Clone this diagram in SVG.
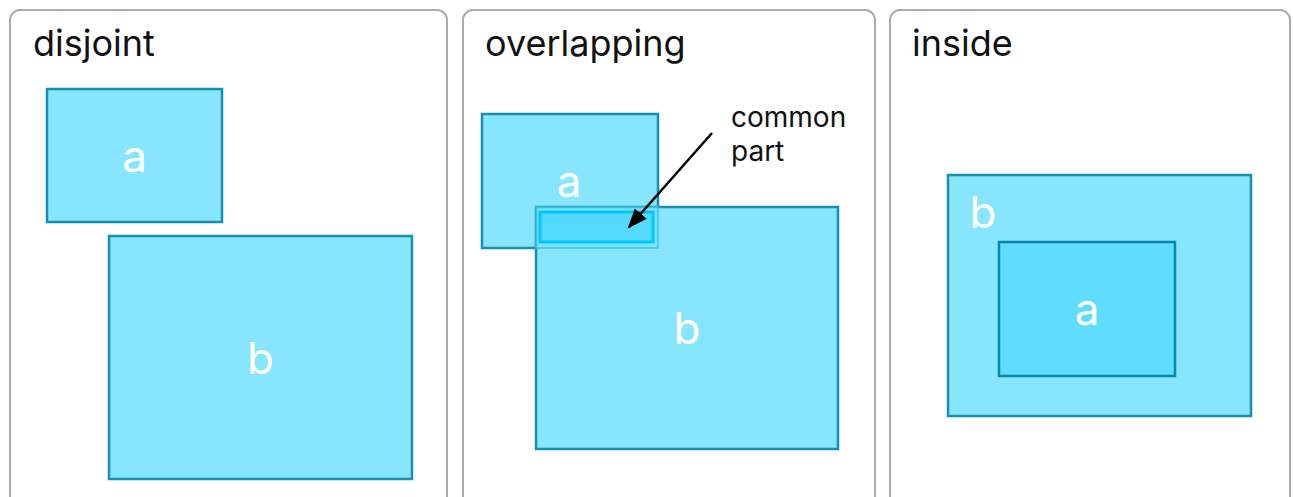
<svg xmlns="http://www.w3.org/2000/svg" width="1293" height="497" viewBox="0 0 1293 497">
<defs>
<style>
.panel{fill:#fff;stroke:#ababab;stroke-width:2}
.title{font-family:Inter,"Noto Sans",sans-serif;font-size:36px;fill:#111}
.box{fill:#88e5fe;stroke:#1590b2;stroke-width:2.5}
.inner{fill:#60dcff;stroke:#0a86a6;stroke-width:2.5}
.lbl{font-family:Inter,"Noto Sans",sans-serif;font-size:44px;fill:#fff;text-anchor:middle;dominant-baseline:central}
.note{font-family:Inter,"Noto Sans",sans-serif;font-size:28px;fill:#111}
</style>
<marker id="ah" viewBox="0 0 10 10" refX="9" refY="5" markerWidth="20" markerHeight="16" orient="auto" markerUnits="userSpaceOnUse" preserveAspectRatio="none">
<path d="M0,0 L10,5 L0,10 z" fill="#000"/>
</marker>
</defs>
<g id="panel-disjoint">
<rect class="panel" x="10" y="10" width="437" height="500" rx="10"/>
<text class="title" x="33" y="56">disjoint</text>
</g>
<g id="panel-overlapping">
<rect class="panel" x="463" y="10" width="412" height="500" rx="10"/>
<text class="title" x="485" y="56">overlapping</text>
</g>
<g id="panel-inside">
<rect class="panel" x="890" y="10" width="400" height="500" rx="10"/>
<text class="title" x="912" y="56">inside</text>
</g>
<g id="disjoint-a">
<rect class="box" x="47" y="89" width="175" height="133"/>
<text class="lbl" x="134.5" y="155.5">a</text>
</g>
<g id="disjoint-b">
<rect class="box" x="109" y="236" width="303" height="243"/>
<text class="lbl" x="260.5" y="357.5">b</text>
</g>
<g id="overlap-a">
<rect class="box" x="482" y="114" width="176" height="134"/>
<text class="lbl" x="569" y="181">a</text>
</g>
<g id="overlap-b">
<rect class="box" x="536" y="207" width="302" height="242"/>
<text class="lbl" x="687" y="328">b</text>
</g>
<g id="overlap-common">
<rect x="536" y="207" width="122" height="41" fill="#6ee0ff" fill-opacity="0.5" stroke="#3dbfe0" stroke-width="2" stroke-opacity="0.7"/>
<rect x="540" y="212" width="113" height="30" fill="#55daff" stroke="#00c6ff" stroke-width="3"/>
</g>
<g id="note-common">
<text class="note" x="731" y="127">common</text>
<text class="note" x="731" y="161">part</text>
</g>
<g id="inside-b">
<rect class="box" x="948" y="175" width="303" height="241"/>
<text class="lbl" x="983" y="212">b</text>
</g>
<g id="inside-a">
<rect class="inner" x="999" y="242" width="176" height="134"/>
<text class="lbl" x="1087" y="309">a</text>
</g>
<g id="connectors">
<line x1="712" y1="133" x2="629" y2="227" stroke="#000" stroke-width="2.5" marker-end="url(#ah)"/>
</g>
</svg>
